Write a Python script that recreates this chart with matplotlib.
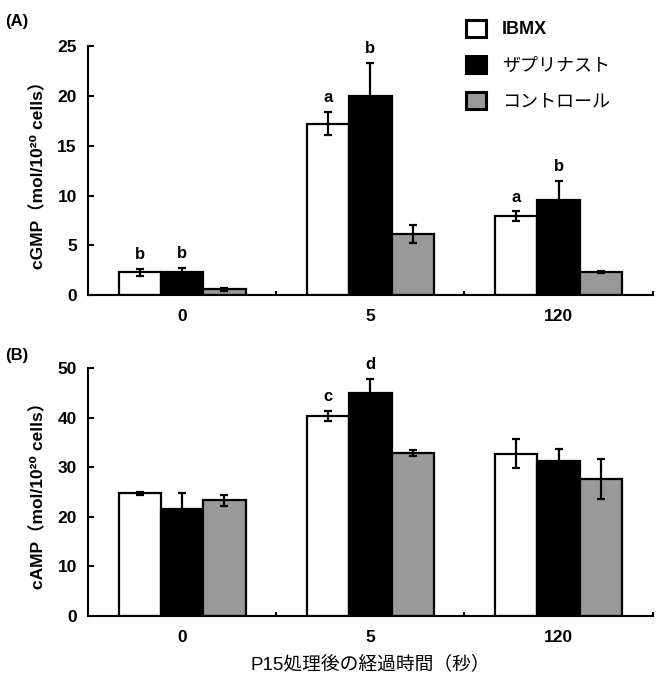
import matplotlib
matplotlib.use("Agg")
import matplotlib.pyplot as plt
from matplotlib.patches import Patch
import numpy as np

plt.rcParams['font.family'] = ['Liberation Sans', 'Noto Sans CJK JP', 'DejaVu Sans']

times = ['0', '5', '120']
series = ['IBMX', 'ザプリナスト', 'コントロール']
colors = ['white', 'black', '#999999']

cgmp = [[2.3, 17.2, 7.9],
        [2.3, 20.0, 9.6],
        [0.6, 6.1, 2.35]]
cgmp_err = [[0.35, 1.15, 0.5],
            [0.4, 3.3, 1.9],
            [0.15, 0.9, 0.1]]
cgmp_marks = [['b', 'a', 'a'],
              ['b', 'b', 'b'],
              ['', '', '']]

camp = [[24.7, 40.3, 32.7],
        [21.5, 44.9, 31.3],
        [23.3, 32.8, 27.6]]
camp_err = [[0.3, 1.0, 2.9],
            [3.3, 2.9, 2.4],
            [1.1, 0.6, 4.1]]
camp_marks = [['', 'c', ''],
              ['', 'd', ''],
              ['', '', '']]

fig = plt.figure(figsize=(6.64, 6.88), dpi=100)
axA = fig.add_axes([0.1325, 0.571, 0.8505, 0.362])
axB = fig.add_axes([0.1325, 0.105, 0.8505, 0.36])

width = 0.225
offsets = [-width, 0.0, width]
x = np.arange(len(times))


def draw(ax, vals, errs, marks, ymax, step, ylab):
    for i in range(3):
        ax.bar(x + offsets[i], vals[i], width, color=colors[i], edgecolor='black',
               linewidth=1.6, zorder=2)
        ax.errorbar(x + offsets[i], vals[i], yerr=errs[i], fmt='none', ecolor='black',
                    elinewidth=1.6, capsize=3, capthick=1.6, zorder=3)
        for j in range(3):
            if marks[i][j]:
                ax.annotate(marks[i][j], (x[j] + offsets[i], vals[i][j] + errs[i][j]),
                            xytext=(0, 5), textcoords='offset points', ha='center',
                            va='bottom', fontsize=12, fontweight='bold')
    ax.set_xlim(-0.5, 2.5)
    ax.set_ylim(0, ymax)
    ax.set_yticks(np.arange(0, ymax + 1, step))
    ax.set_xticks(x)
    ax.set_xticklabels(times)
    ax.set_xticks([0.5, 1.5, 2.5], minor=True)
    ax.tick_params(axis='x', which='major', length=0, pad=10, labelsize=12.5)
    ax.tick_params(axis='x', which='minor', direction='in', length=3, width=1.5)
    ax.tick_params(axis='y', direction='in', length=4, width=1.5, labelsize=12.5, pad=8)
    for lab in ax.get_xticklabels() + ax.get_yticklabels():
        lab.set_fontweight('bold')
    for s in ['top', 'right']:
        ax.spines[s].set_visible(False)
    for s in ['left', 'bottom']:
        ax.spines[s].set_linewidth(1.5)
    ax.set_ylabel(ylab, fontsize=12.5, fontweight='bold', labelpad=8)


draw(axA, cgmp, cgmp_err, cgmp_marks, 25, 5, 'cGMP（mol/10²⁰ cells）')
draw(axB, camp, camp_err, camp_marks, 50, 10, 'cAMP（mol/10²⁰ cells）')

axB.set_xlabel('P15処理後の経過時間（秒）', fontsize=13.5, labelpad=8)

fig.text(0.008, 0.962, '(A)', fontsize=12, fontweight='bold')
fig.text(0.008, 0.477, '(B)', fontsize=12, fontweight='bold')

handles = [Patch(facecolor=c, edgecolor='black', linewidth=2.2) for c in colors]
leg = fig.legend(handles, series, loc='upper left', bbox_to_anchor=(0.677, 0.995),
                 frameon=False, fontsize=13, handlelength=1.1, handleheight=1.1,
                 labelspacing=0.95, handletextpad=0.9)
leg.get_texts()[0].set_fontweight('bold')

fig.savefig('out.png', dpi=100)
